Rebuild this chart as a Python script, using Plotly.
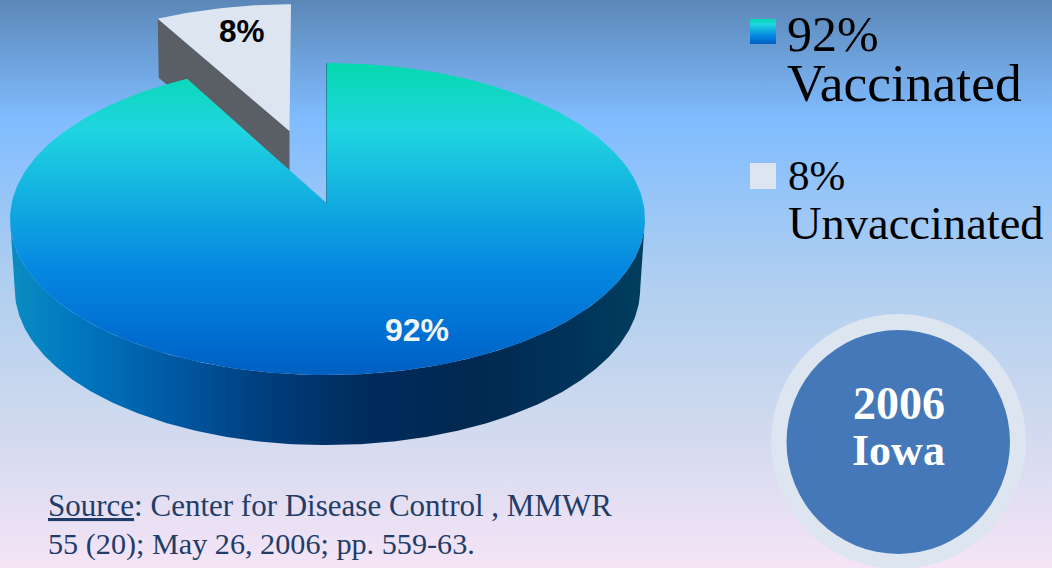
import math
import plotly.graph_objects as go

# ---- data ----
categories = ["Vaccinated", "Unvaccinated"]
values = [92, 8]
pie_labels = ["92%", "8%"]
title_lines = ["2006", "Iowa"]
source_lines = ["<u>Source</u>: Center for Disease Control , MMWR", "55 (20); May 26, 2006; pp. 559-63."]

# ---- geometry / style ----
W, H = 1052, 568
X0, Y0 = 326.5, 203
K = 0.1026; A = 315.8; B = 154.4
DEPTH = 70; SHRINK = 0.985
SERIF = "Liberation Serif"
SANS = "Liberation Sans"

face_scale = [[0, "#05d8ae"], [0.215, "#20d5e0"], [0.44, "#12ade0"], [0.66, "#0588e0"], [0.89, "#006cd0"], [1, "#0060c0"]]
wall_scale = [[0, "#0a8cc0"], [0.1, "#0078c0"], [0.25, "#005aa4"], [0.4, "#003e7e"], [0.55, "#002c5e"], [0.72, "#002850"], [0.88, "#00325a"], [1, "#003e5e"]]
bg_scale = [[0, "#5b87b8"], [0.21, "#80bcff"], [0.5, "#b0cff0"], [0.72, "#ccd8ee"], [1, "#f5e4f6"]]


def project(theta):
    """theta: clockwise degrees from 12 o'clock -> pixel position on the top face"""
    t = math.radians(theta)
    u, v = math.sin(t), math.cos(t)
    w = 1 + K * v
    return X0 + A * u / w + 1.0 * u * u, Y0 - B * v / w


def arc(a, b, n=240):
    return [project(a + (b - a) * i / n) for i in range(n + 1)]


def grad(kind, start, stop, scale):
    return dict(type=kind, start=start, stop=stop, colorscale=scale)


fig = go.Figure()


def poly(pts, color=None, gradient=None):
    xs = [p[0] for p in pts] + [pts[0][0]]
    ys = [p[1] for p in pts] + [pts[0][1]]
    kw = dict(x=xs, y=ys, mode="lines", fill="toself", hoverinfo="skip", showlegend=False,
              line=dict(width=0, color="rgba(0,0,0,0)"))
    if gradient:
        kw["fillgradient"] = gradient
    else:
        kw["fillcolor"] = color
    fig.add_trace(go.Scatter(**kw))


# background
poly([(0, 0), (W, 0), (W, H), (0, H)], gradient=grad("vertical", 0, H, bg_scale))

sweep = [v / sum(values) * 360 for v in values]

# detached slice
SX, SY = 289.5, 131
SCX, SCY = 0.955, 0.905
SKEW = 1.5 / 127
WALL = 59


def slice_pt(p):
    y = SY + (p[1] - Y0) * SCY
    return SX + (p[0] - X0) * SCX + (SY - y) * SKEW, y


s_arc = [slice_pt(p) for p in arc(sweep[0], 360, 60)]
left = s_arc[0]
apex = (SX, SY)
poly([left, apex, (apex[0], apex[1] + WALL), (left[0] + 1, left[1] + WALL)], color="#5a5f66")
poly([apex] + s_arc, color="#dce5f0")

# main wall: front silhouette, from widest point to widest point
front = arc(96, 264)
lower = [(X0 + (x - X0) * SHRINK, y + DEPTH) for x, y in front]
poly(front + lower[::-1], gradient=grad("horizontal", 12, 642, wall_scale))

# main top face
poly([(X0, Y0)] + arc(0, sweep[0]), gradient=grad("vertical", 63, 375, face_scale))
top = project(0)
fig.add_trace(go.Scatter(x=[top[0], X0], y=[top[1], Y0], mode="lines", hoverinfo="skip", showlegend=False,
                         line=dict(color="rgba(0,90,110,0.55)", width=1)))

# legend keys
poly([(750, 19), (776, 19), (776, 44), (750, 44)], gradient=grad("vertical", 19, 44, face_scale))
poly([(750, 163), (776, 163), (776, 189), (750, 189)], color="#dce5f0")


def note(x, y, text, size, color, family, anchor="left", bold=False):
    fig.add_annotation(x=x, y=y, text=f"<b>{text}</b>" if bold else text, showarrow=False,
                       xanchor=anchor, yanchor="middle", align=anchor, borderpad=0, borderwidth=0,
                       font=dict(size=size, color=color, family=family))


def sized(text, px):
    return f"<span style='font-size:{px}px'>{text}</span>"


note(416.5, 330, pie_labels[0], 32, "#f2f6fb", SANS, "center", True)
note(241.5, 31, pie_labels[1], 31.5, "#000000", SANS, "center", True)

# legend text: one block per entry, line pitch set by the base font size
note(787, 59, sized(f"{values[0]}%", 50) + "<br>" + sized(categories[0], 53.5), 38.5, "#000000", SERIF)
note(788, 200, sized(f"{values[1]}%", 43) + "<br>" + sized(categories[1], 46.5), 37.7, "#000000", SERIF)

note(898.5, 403, title_lines[0], 46, "#ffffff", SERIF, "center", True)
note(898.5, 450, title_lines[1], 44, "#ffffff", SERIF, "center", True)

note(48, 505, source_lines[0], 31, "#1f3d68", SERIF)
note(48, 544, source_lines[1], 30.2, "#1f3d68", SERIF)

fig.update_layout(
    width=W, height=H, margin=dict(l=0, r=0, t=0, b=0), autosize=False,
    paper_bgcolor="#c8d6ee", plot_bgcolor="rgba(0,0,0,0)",
    xaxis=dict(range=[0, W], visible=False, fixedrange=True),
    yaxis=dict(range=[H, 0], visible=False, fixedrange=True),
    shapes=[
        dict(type="circle", xref="x", yref="y", x0=771, x1=1026, y0=314, y1=569,
             fillcolor="#dce5f0", line=dict(width=0), layer="above"),
        dict(type="circle", xref="x", yref="y", x0=786.5, x1=1010, y0=330, y1=554,
             fillcolor="#4578b8", line=dict(width=0), layer="above"),
    ],
)

fig.write_html("out.html", config=dict(displayModeBar=False),
               post_script="document.body.style.margin='0';document.body.style.overflow='hidden';")
